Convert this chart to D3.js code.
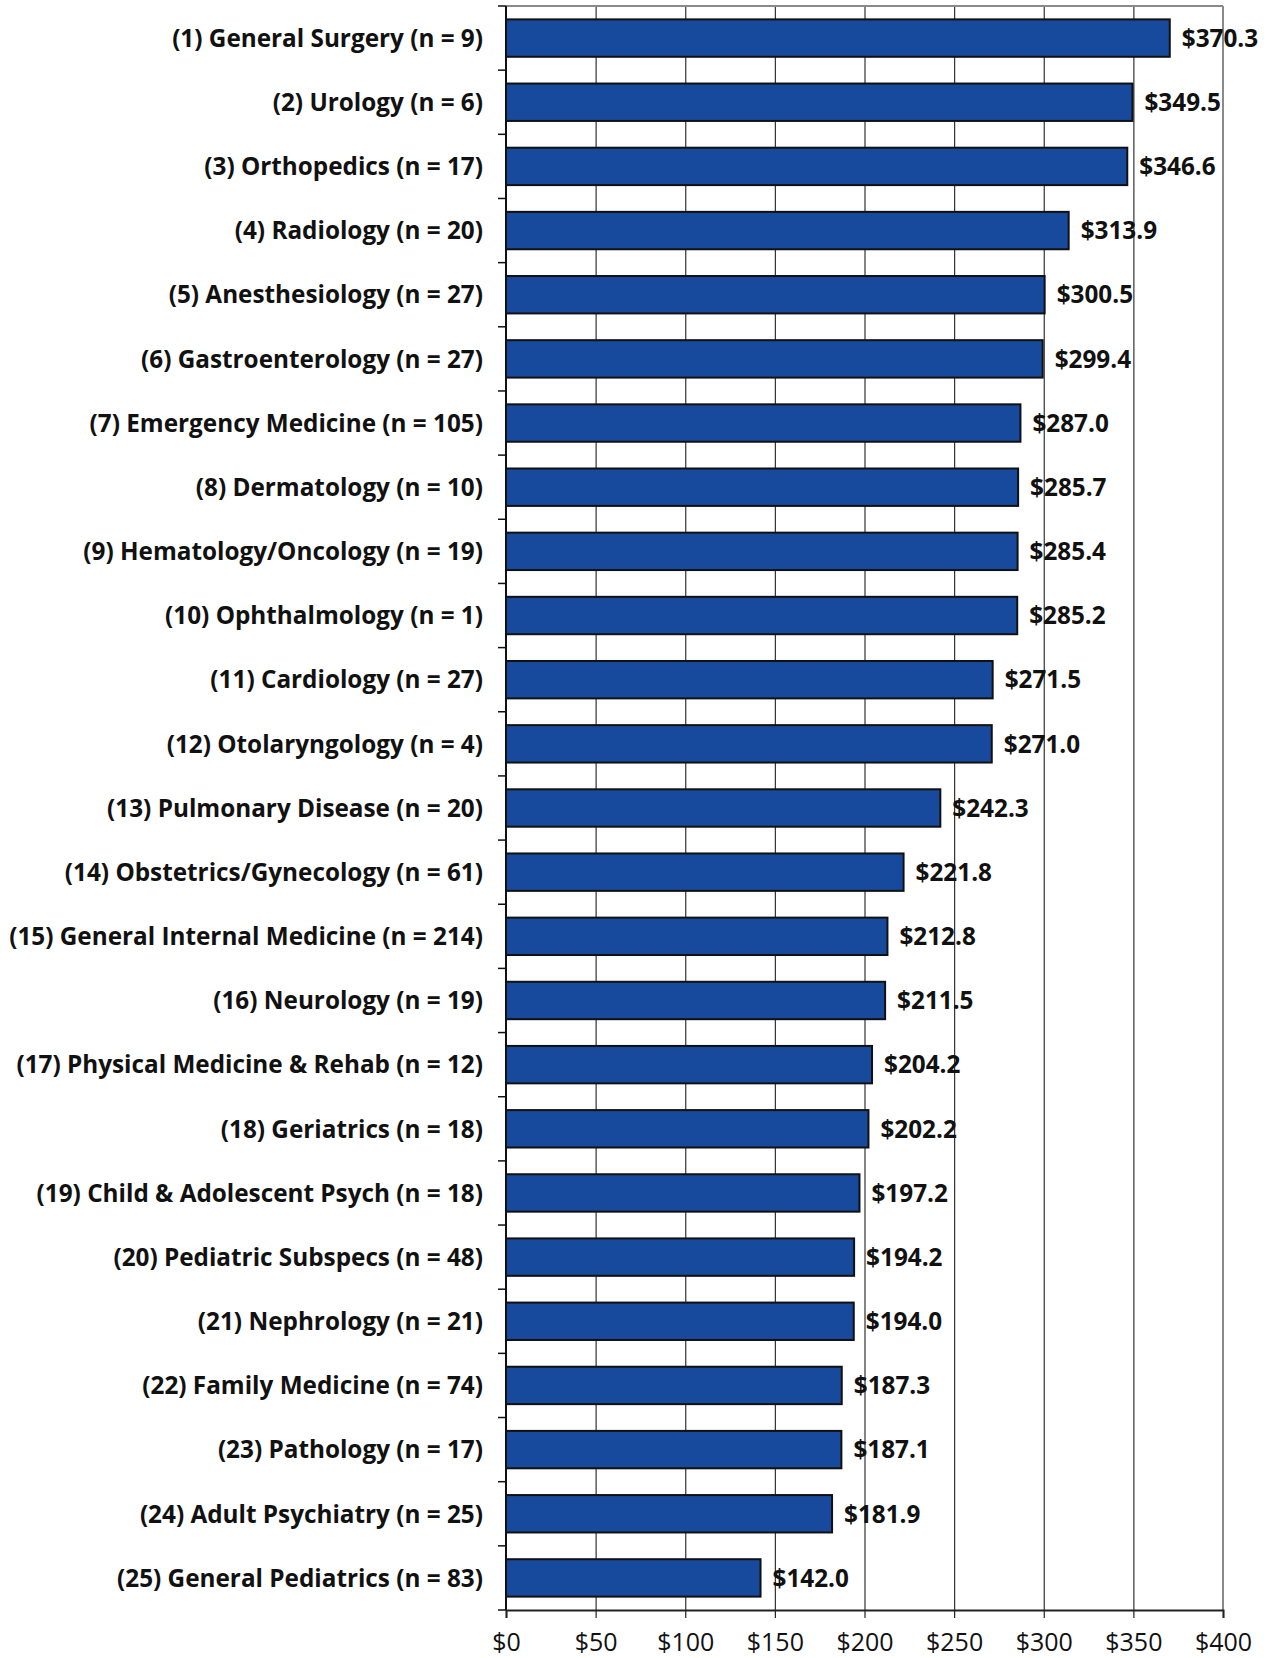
<!DOCTYPE html>
<html>
<head>
<meta charset="utf-8">
<script src="https://cdn.jsdelivr.net/npm/d3@7"></script>
<style>
  html, body { margin: 0; padding: 0; background: #fff; }
  svg { display: block; }
  text { font-family: "Open Sans", sans-serif; }
</style>
</head>
<body>
<svg id="chart" width="1269" height="1658"></svg>
<script>
const specialties = [
  "General Surgery", "Urology", "Orthopedics", "Radiology", "Anesthesiology",
  "Gastroenterology", "Emergency Medicine", "Dermatology", "Hematology/Oncology",
  "Ophthalmology", "Cardiology", "Otolaryngology", "Pulmonary Disease",
  "Obstetrics/Gynecology", "General Internal Medicine", "Neurology",
  "Physical Medicine & Rehab", "Geriatrics", "Child & Adolescent Psych",
  "Pediatric Subspecs", "Nephrology", "Family Medicine", "Pathology",
  "Adult Psychiatry", "General Pediatrics"
];
const counts = [9, 6, 17, 20, 27, 27, 105, 10, 19, 1, 27, 4, 20, 61, 214, 19, 12, 18, 18, 48, 21, 74, 17, 25, 83];
const values = [370.3, 349.5, 346.6, 313.9, 300.5, 299.4, 287.0, 285.7, 285.4, 285.2,
                271.5, 271.0, 242.3, 221.8, 212.8, 211.5, 204.2, 202.2, 197.2, 194.2,
                194.0, 187.3, 187.1, 181.9, 142.0];
const xTicks = [0, 50, 100, 150, 200, 250, 300, 350, 400];

const categories = specialties.map((s, i) => `(${i + 1}) ${s} (n = ${counts[i]})`);
const data = categories.map((c, i) => ({ cat: c, value: values[i] }));

const margin = { left: 506, right: 46, top: 6, bottom: 48 };
const W = 1269, H = 1658;
const svg = d3.select("#chart");

const x = d3.scaleLinear().domain([0, 400]).range([margin.left, W - margin.right]);
const y = d3.scaleBand().domain(categories).range([margin.top, H - margin.bottom])
  .paddingInner(0.417).paddingOuter(0.2085);

const plotTop = margin.top, plotBottom = H - margin.bottom;

// gridlines
svg.append("g").selectAll("line").data(xTicks.filter(t => t > 0 && t < 400)).join("line")
  .attr("x1", d => x(d) + 0.5).attr("x2", d => x(d) + 0.5)
  .attr("y1", plotTop).attr("y2", plotBottom)
  .attr("stroke", "#333").attr("stroke-width", 1.2);

// top & right border
svg.append("line").attr("x1", x(0)).attr("x2", x(400)).attr("y1", plotTop).attr("y2", plotTop)
  .attr("stroke", "#8a8a8a").attr("stroke-width", 2);
svg.append("line").attr("x1", x(400)).attr("x2", x(400)).attr("y1", plotTop).attr("y2", plotBottom)
  .attr("stroke", "#8a8a8a").attr("stroke-width", 2);

// bars
svg.append("g").selectAll("rect").data(data).join("rect")
  .attr("x", x(0))
  .attr("y", d => y(d.cat))
  .attr("width", d => x(d.value) - x(0))
  .attr("height", y.bandwidth())
  .attr("fill", "#174a9c")
  .attr("stroke", "#111")
  .attr("stroke-width", 2);

// value labels
svg.append("g").selectAll("text").data(data).join("text")
  .attr("x", d => x(d.value) + 12)
  .attr("y", d => y(d.cat) + y.bandwidth() / 2)
  .attr("dy", "0.36em")
  .attr("font-size", 24.3)
  .attr("font-weight", 700)
  .attr("fill", "#111")
  .text(d => "$" + d.value.toFixed(1));

// y axis
const yAxisG = svg.append("g").attr("transform", `translate(${x(0)},0)`);
yAxisG.append("line").attr("x1", 0).attr("x2", 0).attr("y1", plotTop).attr("y2", plotBottom)
  .attr("stroke", "#111").attr("stroke-width", 2);
const boundaries = d3.range(categories.length + 1).map(i => plotTop + i * y.step());
yAxisG.selectAll("line.tick").data(boundaries).join("line").attr("class", "tick")
  .attr("x1", -8).attr("x2", 0).attr("y1", d => d).attr("y2", d => d)
  .attr("stroke", "#111").attr("stroke-width", 1.5);
yAxisG.selectAll("text").data(categories).join("text")
  .attr("x", -23)
  .attr("y", d => y(d) + y.bandwidth() / 2)
  .attr("dy", "0.36em")
  .attr("text-anchor", "end")
  .attr("font-size", 24.3)
  .attr("font-weight", 700)
  .attr("fill", "#111")
  .text(d => d);

// x axis
const xAxis = d3.axisBottom(x).tickValues(xTicks).tickSize(8).tickPadding(15)
  .tickFormat(d => "$" + d);
const xAxisG = svg.append("g").attr("transform", `translate(0,${plotBottom})`).call(xAxis);
xAxisG.select(".domain").attr("stroke", "#222").attr("stroke-width", 2);
xAxisG.selectAll(".tick line").attr("stroke", "#222").attr("stroke-width", 1.2);
xAxisG.selectAll(".tick text").attr("font-size", 25).attr("fill", "#111")
  .attr("font-family", "Open Sans, sans-serif");
</script>
</body>
</html>
